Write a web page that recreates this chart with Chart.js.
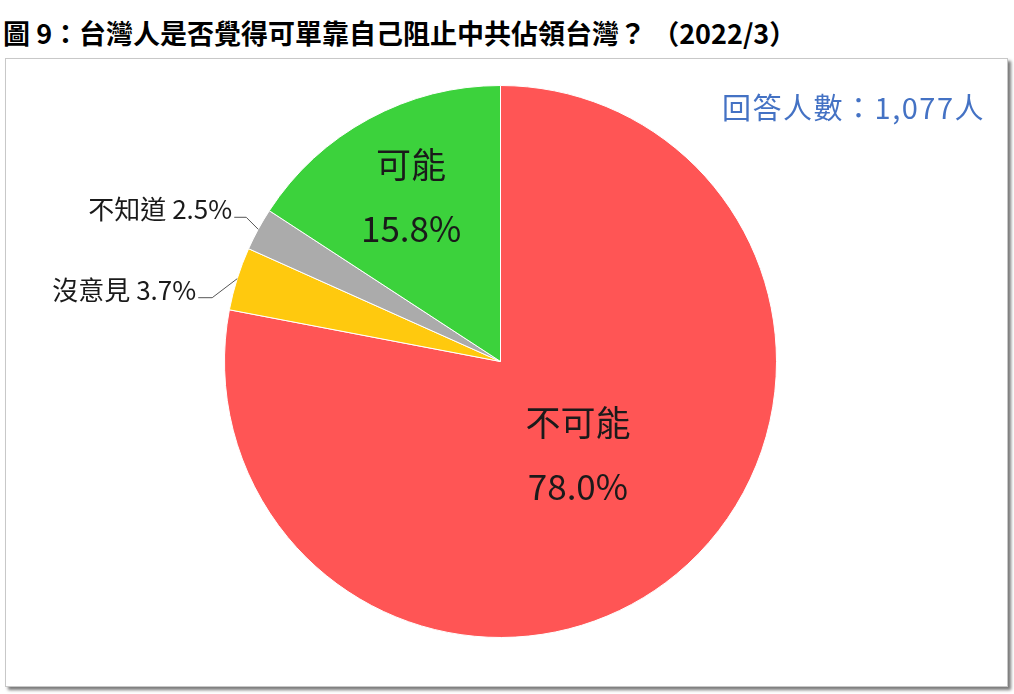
<!DOCTYPE html>
<html>
<head>
<meta charset="utf-8">
<script src="https://cdn.jsdelivr.net/npm/chart.js@4.4.1/dist/chart.umd.min.js"></script>
<style>
  body { margin: 0; background: #fff; width: 1014px; height: 694px; overflow: hidden; position: relative; }
  #title { position: absolute; left: 3px; top: 13px; font: bold 27px "Noto Sans CJK TC", sans-serif; color: #000; white-space: pre; }
  #frame { position: absolute; left: 5px; top: 58px; width: 1001px; height: 627px; border: 1px solid #c8c8c8; box-shadow: 3px 3px 3px #7a7a7a; background: #fff; }
  #frame canvas { position: absolute; left: 0; top: 0; }
  #count { position: absolute; right: 22px; top: 26px; font: 29px "Noto Sans CJK TC", sans-serif; letter-spacing: 1.5px; color: #4472c4; }
</style>
</head>
<body>
<div id="title">圖 9：台灣人是否覺得可單靠自己阻止中共佔領台灣？ （2022/3）</div>
<div id="frame">
  <canvas id="pie" width="1001" height="627"></canvas>
  <div id="count">回答人數：1,077人</div>
</div>
<script>
// 資料
const labels = ['不可能', '沒意見', '不知道', '可能'];
const values = [78.0, 3.7, 2.5, 15.8];
const colors = ['#ff5555', '#ffc90e', '#ababab', '#3cd23c'];

// 標籤樣式: inside = 放在扇形內, 否則外面加引線
const labelStyle = [
  { inside: true, r: 0.44 },
  { inside: false, elbow: [-25, 19], len: 14 },
  { inside: false, elbow: [-12, -12], len: 12 },
  { inside: true, r: 0.68 }
];

const sliceLabels = {
  id: 'sliceLabels',
  afterDatasetsDraw(chart) {
    const ctx = chart.ctx;
    const meta = chart.getDatasetMeta(0);
    meta.data.forEach((arc, i) => {
      const p = arc.getProps(['x', 'y', 'startAngle', 'endAngle', 'outerRadius'], true);
      const mid = (p.startAngle + p.endAngle) / 2;
      const st = labelStyle[i];
      const pct = values[i].toFixed(1) + '%';
      ctx.save();
      ctx.fillStyle = '#1a1a1a';
      if (st.inside) {
        const x = p.x + Math.cos(mid) * p.outerRadius * st.r;
        const y = p.y + Math.sin(mid) * p.outerRadius * st.r;
        ctx.font = '35px "Noto Sans CJK TC", sans-serif';
        ctx.textAlign = 'center';
        ctx.textBaseline = 'middle';
        ctx.fillText(labels[i], x, y - 32);
        ctx.fillText(pct, x, y + 32);
      } else {
        const ex = p.x + Math.cos(mid) * p.outerRadius;
        const ey = p.y + Math.sin(mid) * p.outerRadius;
        const bx = ex + st.elbow[0];
        const by = ey + st.elbow[1];
        const tx = bx - st.len;
        ctx.strokeStyle = '#555';
        ctx.lineWidth = 1;
        ctx.beginPath();
        ctx.moveTo(ex, ey);
        ctx.lineTo(bx, by);
        ctx.lineTo(tx, by);
        ctx.stroke();
        ctx.font = '26px "Noto Sans CJK TC", sans-serif';
        ctx.textAlign = 'right';
        ctx.textBaseline = 'middle';
        ctx.fillText(labels[i] + ' ' + pct, tx - 2, by - 8);
      }
      ctx.restore();
    });
  }
};

new Chart(document.getElementById('pie').getContext('2d'), {
  type: 'pie',
  data: {
    labels,
    datasets: [{
      data: values,
      backgroundColor: colors,
      borderColor: '#ffffff',
      borderWidth: 1
    }]
  },
  options: {
    responsive: false,
    animation: false,
    layout: { padding: { top: 26, bottom: 48, left: 0, right: 12 } },
    plugins: {
      legend: { display: false },
      tooltip: { enabled: false },
      title: { display: false }
    }
  },
  plugins: [sliceLabels]
});
</script>
</body>
</html>
